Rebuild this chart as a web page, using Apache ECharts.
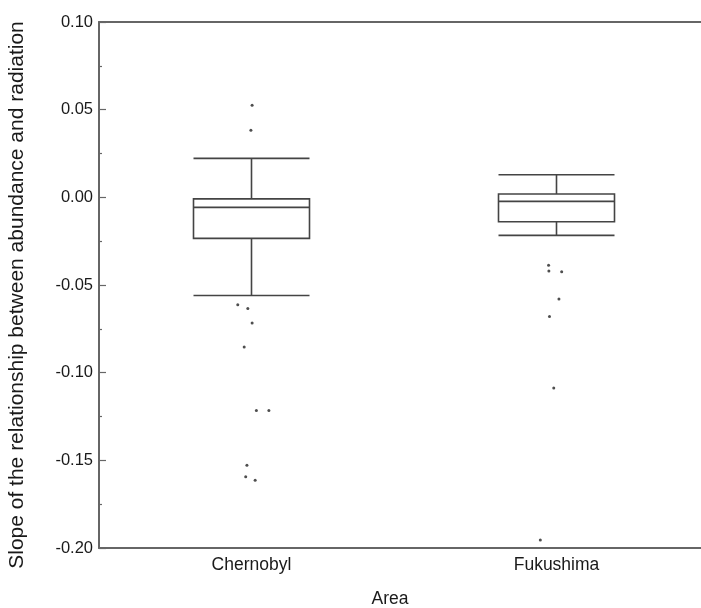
<!DOCTYPE html>
<html>
<head>
<meta charset="utf-8">
<script src="https://cdn.jsdelivr.net/npm/echarts@6/dist/echarts.min.js"></script>
<style>
html,body{margin:0;padding:0;background:#fff;}
#box{width:701px;height:608px;}
</style>
</head>
<body>
<div id="box"></div>
<script>
// areas
var areas = ['Chernobyl', 'Fukushima'];
// [lower whisker, Q1, median, Q3, upper whisker]
var chernobylBox = [-0.056, -0.0234, -0.0057, -0.0009, 0.0222];
var fukushimaBox = [-0.0217, -0.0139, -0.0023, 0.0019, 0.0129];
// outliers: x position (1 = Chernobyl, 2 = Fukushima, small jitter) and slope
var chernobylOutX = [1.002, 0.998, 0.955, 0.988, 1.002, 0.976, 1.016, 1.057, 0.985, 0.981, 1.012];
var chernobylOutY = [0.0525, 0.0382, -0.0613, -0.0634, -0.0717, -0.0854, -0.1216, -0.1216, -0.1528, -0.1593, -0.1614];
var fukushimaOutX = [1.974, 1.975, 2.017, 2.008, 1.977, 1.991, 1.947];
var fukushimaOutY = [-0.0388, -0.0420, -0.0424, -0.058, -0.068, -0.1088, -0.1954];

function drawBoxChart(){
	var chart = echarts.init(document.querySelector('#box'))
	var outliers = []
	chernobylOutX.forEach(function(x, i){ outliers.push([x, chernobylOutY[i]]) })
	fukushimaOutX.forEach(function(x, i){ outliers.push([x, fukushimaOutY[i]]) })

	var font = 'Liberation Sans, Arial, Helvetica, sans-serif'
	var option = {
    animation: false,
    grid: {
        left: 99,
        top: 22,
        width: 610,
        height: 526,
        containLabel: false,
        outerBoundsMode: 'none'
    },
    xAxis: [
        {
            type: 'category',
            data: areas,
            boundaryGap: true,
            name: 'Area',
            nameLocation: 'middle',
            nameGap: 42,
            nameTextStyle: {color: '#1a1a1a', fontSize: 17.5, fontFamily: font, padding: [0, 28, 0, 0]},
            axisLine: {onZero: false, lineStyle: {color: '#666', width: 2}},
            axisTick: {show: false},
            axisLabel: {color: '#1a1a1a', fontSize: 17.5, fontFamily: font, margin: 8},
            splitLine: {show: false}
        },
        {
            type: 'value',
            position: 'top',
            min: 0.5,
            max: 2.5,
            axisLine: {show: true, onZero: false, lineStyle: {color: '#666', width: 2}},
            axisTick: {show: false},
            axisLabel: {show: false},
            splitLine: {show: false}
        }
    ],
    yAxis: {
        type: 'value',
        min: -0.2,
        max: 0.1,
        interval: 0.05,
        name: 'Slope of the relationship between abundance and radiation',
        nameLocation: 'middle',
        nameGap: 71,
        nameTextStyle: {color: '#1a1a1a', fontSize: 21, fontFamily: font, padding: [0, 20, 0, 0]},
        axisLine: {show: true, lineStyle: {color: '#666', width: 2}},
        axisTick: {show: true, inside: true, length: 7, lineStyle: {color: '#666', width: 1.2}},
        minorTick: {show: true, splitNumber: 2, length: 3, lineStyle: {color: '#666', width: 1.2}},
        axisLabel: {
            color: '#1a1a1a', fontSize: 16.5, fontFamily: font, margin: 6,
            formatter: function(v){ return v.toFixed(2) }
        },
        splitLine: {show: false}
    },
    series: [
        {
            name: 'slope',
            type: 'boxplot',
            xAxisIndex: 0,
            boxWidth: [116, 116],
            data: [chernobylBox, fukushimaBox],
            itemStyle: {color: '#fff', borderColor: '#444', borderWidth: 1.6}
        },
        {
            name: 'outlier',
            type: 'scatter',
            xAxisIndex: 1,
            symbolSize: 3,
            itemStyle: {color: '#222'},
            data: outliers
        }
    ]
};

	chart.setOption(option)
}

drawBoxChart()
</script>
</body>
</html>
